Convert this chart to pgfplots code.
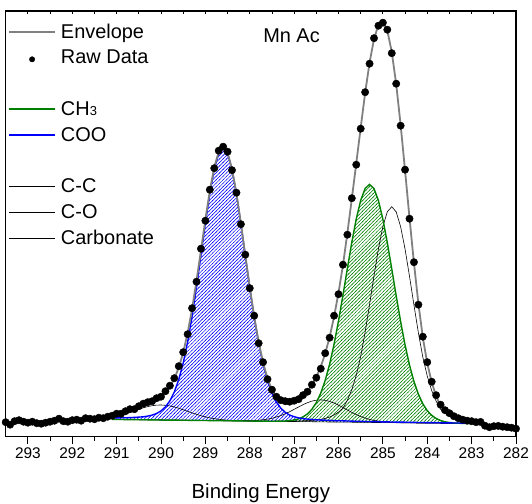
\documentclass[border=0pt]{standalone}
\usepackage{fontspec}
\setmainfont{Liberation Sans}
\usepackage{pgfplots}
\pgfplotsset{compat=1.18}
\usepackage{pgfplotstable}
\usepgfplotslibrary{fillbetween}
\usetikzlibrary{patterns.meta}
\definecolor{ourgreen}{RGB}{0,128,0}
\definecolor{envgray}{RGB}{128,128,128}

\pgfdeclarepattern{
  name=hatchNE, type=uncolored,
  bottom left={\pgfpoint{-0.5pt}{-0.5pt}},
  top right={\pgfpoint{4pt}{4pt}},
  tile size={\pgfpoint{3.5pt}{3.5pt}},
  code={
    \pgfsetlinewidth{0.5pt}
    \pgfpathmoveto{\pgfpoint{-0.5pt}{-0.5pt}}
    \pgfpathlineto{\pgfpoint{4pt}{4pt}}
    \pgfusepath{stroke}
  }
}

\pgfplotstableread{
x B coo ch3 cc co carb env
291.1 17.3 18.7 17.3 17.3 17.3 20.0 21.4
291.0 17.2 18.8 17.2 17.2 17.2 20.8 22.4
290.9 17.2 18.9 17.2 17.2 17.2 22.0 23.7
290.8 17.1 18.9 17.1 17.1 17.1 23.2 25.0
290.7 17.1 19.1 17.1 17.1 17.1 24.6 26.6
290.6 17.0 19.3 17.0 17.0 17.0 26.0 28.3
290.5 17.0 19.6 17.0 17.0 17.0 27.5 30.1
290.4 16.9 19.9 16.9 16.9 16.9 28.9 31.9
290.3 16.9 20.6 16.9 16.9 16.9 30.1 33.8
290.2 16.8 21.6 16.8 16.8 16.8 31.0 35.8
290.1 16.8 23.2 16.8 16.8 16.8 31.6 38.0
290.0 16.7 25.8 16.7 16.7 16.7 31.7 40.8
289.9 16.6 29.8 16.6 16.6 16.6 31.4 44.6
289.8 16.6 35.9 16.6 16.6 16.6 30.8 50.1
289.7 16.5 44.7 16.5 16.5 16.5 29.7 57.9
289.6 16.5 57.1 16.5 16.5 16.5 28.5 69.1
289.5 16.4 73.6 16.4 16.4 16.4 26.9 84.1
289.4 16.4 94.7 16.4 16.4 16.4 25.4 103.7
289.3 16.3 120.2 16.3 16.3 16.3 23.8 127.7
289.2 16.3 149.7 16.3 16.3 16.3 22.4 155.8
289.1 16.2 181.4 16.2 16.2 16.2 21.0 186.2
289.0 16.2 213.6 16.2 16.2 16.2 19.8 217.2
288.9 16.1 243.2 16.1 16.1 16.1 18.8 245.9
288.8 16.1 267.5 16.1 16.1 16.1 18.1 269.5
288.7 16.0 283.4 16.0 16.0 16.0 17.4 284.8
288.6 16.0 289.0 16.0 16.0 16.0 16.9 289.9
288.5 15.9 283.3 15.9 15.9 15.9 16.5 283.9
288.4 15.9 267.3 15.9 15.9 15.9 16.3 267.7
288.3 15.8 242.9 15.8 15.8 15.8 16.1 243.2
288.2 15.8 213.2 15.8 15.8 15.9 15.9 213.4
288.1 15.7 180.9 15.7 15.7 15.9 15.8 181.2
288.0 15.7 149.1 15.7 15.7 16.0 15.7 149.4
287.9 15.6 119.5 15.6 15.6 16.1 15.6 120.0
287.8 15.6 93.9 15.6 15.6 16.5 15.6 94.8
287.7 15.5 72.7 15.5 15.6 16.9 15.5 74.1
287.6 15.5 56.1 15.5 15.6 17.6 15.5 58.2
287.5 15.4 43.6 15.4 15.6 18.4 15.4 46.6
287.4 15.4 34.7 15.5 15.6 19.7 15.4 39.2
287.3 15.3 28.5 15.5 15.6 21.1 15.3 34.8
287.2 15.3 24.4 15.7 15.6 23.0 15.3 32.8
287.1 15.2 21.6 16.0 15.6 25.0 15.2 32.6
287.0 15.2 20.0 16.7 15.7 27.4 15.2 34.2
286.9 15.1 18.8 17.8 15.7 29.7 15.1 36.7
286.8 15.1 18.1 19.8 15.9 32.0 15.1 40.5
286.7 15.0 17.6 22.8 16.0 34.0 15.0 45.4
286.6 15.0 17.3 27.4 16.3 35.6 15.0 51.6
286.5 14.9 16.9 34.1 16.7 36.5 14.9 59.5
286.4 14.8 16.6 43.6 17.3 36.8 14.8 69.9
286.3 14.8 16.5 56.3 18.3 36.4 14.8 83.1
286.2 14.7 16.3 72.5 19.7 35.3 14.7 99.7
286.1 14.7 16.1 92.5 21.7 33.7 14.7 119.9
286.0 14.6 15.9 115.8 24.6 31.5 14.6 144.0
285.9 14.6 15.9 141.5 28.6 29.2 14.6 171.4
285.8 14.5 15.7 168.3 36.5 26.7 14.5 203.7
285.7 14.5 15.6 194.5 47.0 24.3 14.5 237.9
285.6 14.4 15.4 217.8 61.4 22.1 14.4 273.5
285.5 14.4 15.4 236.3 80.3 20.2 14.4 309.0
285.4 14.3 15.2 248.2 104.6 18.6 14.3 343.7
285.3 14.3 15.2 252.3 132.2 17.3 14.3 374.1
285.2 14.2 15.0 248.1 160.8 16.3 14.2 397.6
285.1 14.2 15.0 236.1 187.9 15.6 14.2 412.0
285.0 14.1 14.8 217.5 210.2 15.0 14.1 415.2
284.9 14.1 14.8 194.1 224.9 14.6 14.1 406.1
284.8 14.0 14.7 167.8 230.0 14.3 14.0 384.8
284.7 14.0 14.6 140.9 224.8 14.2 14.0 352.5
284.6 13.9 14.5 115.1 210.0 14.0 13.9 311.9
284.5 13.9 14.5 91.7 187.6 13.9 13.9 266.0
284.4 13.8 14.4 71.6 160.4 13.8 13.8 218.8
284.3 13.8 14.3 55.3 131.7 13.8 13.8 173.7
284.2 13.7 14.2 42.5 104.0 13.7 13.7 133.3
284.1 13.7 14.2 32.9 79.6 13.7 13.7 99.3
284.0 13.6 14.1 26.0 60.6 13.6 13.6 73.5
283.9 13.6 14.1 21.4 46.1 13.6 13.6 54.4
283.8 13.5 14.0 18.2 35.5 13.5 13.5 40.7
283.7 13.5 13.9 16.2 27.5 13.5 13.5 30.6
283.6 13.4 13.8 14.9 23.4 13.4 13.4 25.3
283.5 13.4 13.8 14.2 20.4 13.4 13.4 21.6
283.4 13.3 13.7 13.7 18.3 13.3 13.3 19.1
283.3 13.3 13.7 13.5 16.8 13.3 13.3 17.4
283.2 13.2 13.6 13.2 15.7 13.2 13.2 16.1
283.1 13.2 13.6 13.2 15.0 13.2 13.2 15.4
283.0 13.1 13.5 13.1 14.4 13.1 13.1 14.8
}\comp

\pgfplotstableread{
x y
293.5 14.5
293.4 12.0
293.3 15.5
293.2 16.5
293.1 15.0
293.0 14.0
292.9 15.0
292.8 13.5
292.7 13.0
292.6 14.0
292.5 15.0
292.4 16.0
292.3 18.0
292.2 15.5
292.1 15.0
292.0 16.5
291.9 17.0
291.8 16.0
291.7 18.5
291.6 18.0
291.5 17.5
291.4 19.0
291.3 18.5
291.2 20.0
291.1 21.0
291.0 23.0
290.9 23.0
290.8 25.5
290.7 27.5
290.6 27.5
290.5 30.5
290.4 33.0
290.3 34.5
290.2 35.5
290.1 38.5
290.0 40.0
289.9 45.5
289.8 51.0
289.7 58.5
289.6 70.5
289.5 84.5
289.4 102.5
289.3 128.5
289.2 155.0
289.1 188.0
289.0 216.0
288.9 247.0
288.8 268.5
288.7 286.0
288.6 290.0
288.5 285.0
288.4 266.5
288.3 244.0
288.2 212.5
288.1 182.0
288.0 148.5
287.9 121.0
287.8 93.5
287.7 74.5
287.6 57.5
287.5 47.0
287.4 40.0
287.3 36.5
287.2 35.5
287.1 35.0
287.0 36.0
286.9 37.5
286.8 41.5
286.7 45.0
286.6 52.0
286.5 59.0
286.4 68.0
286.3 83.5
286.2 99.0
286.1 121.0
286.0 142.5
285.9 172.0
285.8 202.0
285.7 238.5
285.6 272.0
285.5 308.0
285.4 344.5
285.3 373.0
285.2 398.5
285.1 411.0
285.0 414.0
284.9 407.0
284.8 383.5
284.7 353.0
284.6 311.0
284.5 267.0
284.4 218.0
284.3 174.5
284.2 132.0
284.1 100.0
284.0 74.5
283.9 55.0
283.8 41.5
283.7 32.0
283.6 26.5
283.5 23.5
283.4 20.5
283.3 18.5
283.2 17.0
283.1 16.0
283.0 15.5
282.9 14.5
282.8 14.8
282.7 11.0
282.6 9.5
282.5 10.5
282.4 10.8
282.3 10.0
282.2 9.5
282.1 9.0
282.0 8.0
}\raw

\begin{document}
\begin{tikzpicture}
\begin{axis}[
  at={(0,0)}, anchor=south west,
  scale only axis, width=510.3bp, height=425.7bp,
  xmin=282, xmax=293.5, ymin=0, ymax=425.7,
  x dir=reverse,
  xtick={282,...,293}, minor x tick num=1,
  xtick pos=left, xtick align=outside,
  ytick=\empty,
  minor ytick={6,36.6,...,420},
  ytick align=inside,
  major tick length=7.5bp, minor tick length=4bp,
  tick style={black, line width=0.8bp},
  axis line style={line width=1.1bp},
  /pgf/number format/assume math mode=true,
  xticklabel style={font=\fontsize{15.5}{15.5}\selectfont},
  xlabel={Binding Energy},
  xlabel style={font=\fontsize{20.5}{20.5}\selectfont, at={(axis description cs:0.5,0)}, anchor=center, yshift=-56.7bp},
  legend style={draw=none, fill=none, at={(0,1)}, anchor=north west,
    xshift=2.3bp, yshift=-12.7bp, inner sep=0pt, row sep=10.4bp, column sep=5bp,
    font=\fontsize{20}{22}\selectfont, nodes={inner sep=0pt}},
  legend cell align=left,
  legend image code/.code={\draw[#1] (0bp,0bp) -- (46bp,0bp);},
]
\addplot[draw=none, name path=base, forget plot] table[x=x,y=B]{\comp};
\addplot[draw=none, name path=cooP, forget plot] table[x=x,y=coo]{\comp};
\addplot[draw=none, name path=ch3P, forget plot] table[x=x,y=ch3]{\comp};
\addplot[pattern=hatchNE, pattern color=blue, draw=none, forget plot] fill between[of=cooP and base];
\addplot[pattern=hatchNE, pattern color=ourgreen, draw=none, forget plot] fill between[of=ch3P and base];

\addplot[black, line width=0.6bp, forget plot] table[x=x,y=cc]{\comp};
\addplot[black, line width=0.6bp, forget plot] table[x=x,y=co]{\comp};
\addplot[black, line width=0.6bp, forget plot] table[x=x,y=carb]{\comp};
\addplot[ourgreen, line width=1.4bp, forget plot] table[x=x,y=ch3]{\comp};
\addplot[blue, line width=1.4bp, forget plot] table[x=x,y=coo]{\comp};
\addplot[envgray, line width=1.8bp, forget plot] table[x=x,y=env]{\comp};
\addplot[only marks, mark=*, mark size=3.7bp, black, forget plot] table[x=x,y=y]{\raw};

\addlegendimage{envgray, line width=1.8bp}
\addlegendentry{Envelope}
\addlegendimage{legend image code/.code={\fill[black] (23bp,-1.5bp) circle (2.7bp); \path[draw=none] (0bp,-1.5bp) -- (46bp,-1.5bp);}}
\addlegendentry{Raw Data}
\addlegendimage{empty legend}
\addlegendentry{\phantom{X}}
\addlegendimage{ourgreen, line width=1.4bp}
\addlegendentry{CH{\fontsize{13}{13}\selectfont 3}}
\addlegendimage{blue, line width=1.4bp}
\addlegendentry{COO}
\addlegendimage{empty legend}
\addlegendentry{\phantom{X}}
\addlegendimage{black, line width=0.6bp}
\addlegendentry{C-C}
\addlegendimage{black, line width=0.6bp}
\addlegendentry{C-O}
\addlegendimage{black, line width=0.6bp}
\addlegendentry{Carbonate}

\node[anchor=west, font=\fontsize{20}{20}\selectfont, inner sep=0pt] at (axis cs:287.7,400.7) {Mn Ac};
\end{axis}
\begin{axis}[
  at={(0,0)}, anchor=south west,
  scale only axis, width=510.3bp, height=425.7bp,
  xmin=282, xmax=293.5, ymin=0, ymax=1,
  x dir=reverse,
  axis x line*=top, hide y axis,
  xtick={282,282.5,...,293.5}, xticklabels={},
  xtick align=inside, major tick length=3.5bp,
  tick style={black, line width=0.8bp},
  axis line style={line width=1.1bp},
]
\end{axis}
\pgfresetboundingbox
\useasboundingbox (-5.7bp,-67.3bp) rectangle (526.3bp,436.7bp);
\end{tikzpicture}
\end{document}
